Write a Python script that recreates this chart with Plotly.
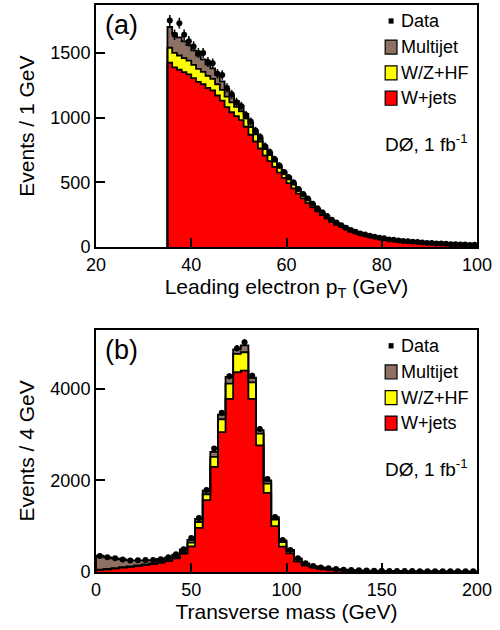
import numpy as np
import plotly.graph_objects as go

# ---------------- Panel (a): leading electron pT, 1 GeV bins ----------------
pt_lo = list(range(35, 100))
pt_width = 1
pt_wjets = [1425, 1388, 1370, 1352, 1335, 1306, 1277, 1258, 1229, 1210,
            1171, 1132, 1082, 1042, 1012, 981, 930, 868, 816, 762,
            708, 665, 620, 575, 535, 495, 454, 413, 377, 340,
            308, 276, 248, 221, 193, 173, 154, 137, 121, 108,
            97, 87, 80, 72, 66, 61, 56, 51, 47, 44,
            41, 38, 35, 33, 31, 29, 27, 25, 23, 21,
            20, 19, 17, 16, 15]
pt_hf = [115, 112, 110, 108, 105, 102, 99, 96, 93, 90,
         87, 83, 80, 76, 72, 68, 64, 60, 56, 53,
         50, 46, 43, 40, 37, 34, 31, 28, 25, 23,
         21, 19, 17, 15, 13, 12, 11, 10, 9, 8,
         7, 7, 6, 6, 5, 5, 4, 4, 4, 3,
         3, 3, 3, 2, 2, 2, 2, 2, 2, 2,
         1, 1, 1, 1, 1]
pt_multijet = [160, 150, 140, 130, 120, 112, 104, 96, 88, 80,
               72, 65, 58, 52, 46, 41, 36, 32, 28, 25,
               22, 19, 17, 15, 13, 11, 10, 9, 8, 7,
               6, 5, 5, 4, 4, 3, 3, 3, 2, 2,
               2, 2, 2, 2, 2, 1, 1, 1, 1, 1,
               1, 1, 1, 1, 1, 1, 1, 1, 1, 1,
               1, 1, 1, 1, 1]
pt_data = [1750, 1640, 1730, 1640, 1590, 1550, 1500, 1500, 1430, 1420,
           1340, 1330, 1230, 1180, 1120, 1090, 1020, 970, 900, 850,
           780, 735, 680, 630, 580, 540, 500, 450, 410, 375,
           335, 300, 270, 240, 212, 190, 170, 150, 133, 120,
           106, 97, 88, 81, 72, 68, 60, 57, 52, 47,
           45, 41, 40, 36, 33, 32, 29, 28, 26, 23,
           22, 21, 20, 17, 18]

# ---------------- Panel (b): transverse mass, 4 GeV bins ----------------
mt_lo = list(range(0, 200, 4))
mt_width = 4
mt_wjets = [45, 60, 75, 95, 110, 130, 150, 170, 200, 240,
            300, 400, 560, 960, 1565, 2290, 3050, 3775, 4355, 4391,
            3775, 2760, 1725, 1000, 551, 406, 225, 140, 95, 70,
            55, 42, 32, 26, 21, 17, 14, 12, 10, 9,
            8, 7, 7, 6, 6, 5, 5, 5, 4, 4]
mt_hf = [5, 5, 8, 10, 10, 12, 14, 15, 18, 20,
         25, 35, 80, 130, 130, 220, 280, 330, 400, 400,
         360, 255, 200, 145, 100, 50, 45, 30, 20, 15,
         12, 10, 8, 6, 5, 4, 4, 3, 3, 3,
         2, 2, 2, 2, 2, 1, 1, 1, 1, 1]
mt_multijet = [305, 255, 215, 170, 135, 110, 90, 75, 65, 55,
               55, 55, 60, 70, 80, 110, 100, 150, 100, 150,
               100, 80, 70, 50, 40, 25, 25, 18, 15, 15,
               13, 12, 11, 10, 10, 10, 10, 10, 10, 10,
               10, 9, 9, 9, 9, 9, 9, 9, 9, 9]
mt_data = [350, 320, 300, 275, 250, 255, 262, 262, 280, 320,
           385, 495, 740, 1180, 1790, 2690, 3470, 4270, 4880, 5010,
           4280, 3120, 2030, 1200, 700, 480, 300, 190, 130, 100,
           80, 65, 50, 42, 36, 31, 28, 25, 22, 22,
           20, 19, 18, 17, 17, 16, 15, 15, 14, 14]

legend_labels = ["Data", "Multijet", "W/Z+HF", "W+jets"]
colors = {"W+jets": "#ff0000", "W/Z+HF": "#ffff00", "Multijet": "#8d7163"}

FONT = "Liberation Sans, Arial, Helvetica, sans-serif"

fig = go.Figure()


def add_stack(lo, width, comps, cols, xa, ya):
    x = [lo[0]] + list(lo) + [lo[-1] + width]
    cum = np.zeros(len(lo))
    for i, (vals, col) in enumerate(zip(comps, cols)):
        cum = cum + np.array(vals, dtype=float)
        y = [0.0] + list(cum) + [cum[-1]]
        fig.add_trace(go.Scatter(
            x=x, y=y, mode="lines",
            line=dict(shape="hv", color="black", width=1.8),
            fill="tozeroy" if i == 0 else "tonexty", fillcolor=col,
            xaxis=xa, yaxis=ya, showlegend=False, hoverinfo="skip"))


def add_data(lo, width, data, xa, ya):
    d = np.array(data, dtype=float)
    fig.add_trace(go.Scatter(
        x=np.array(lo) + width / 2.0, y=d, mode="markers",
        marker=dict(symbol="circle", size=6, color="black"),
        error_y=dict(type="data", array=np.sqrt(d), width=0,
                     thickness=1.5, color="black"),
        xaxis=xa, yaxis=ya, showlegend=False, hoverinfo="skip"))


add_stack(pt_lo, pt_width, [pt_wjets, pt_hf, pt_multijet],
          [colors["W+jets"], colors["W/Z+HF"], colors["Multijet"]], "x", "y")
add_data(pt_lo, pt_width, pt_data, "x", "y")
add_stack(mt_lo, mt_width, [mt_wjets, mt_hf, mt_multijet],
          [colors["W+jets"], colors["W/Z+HF"], colors["Multijet"]], "x2", "y2")
add_data(mt_lo, mt_width, mt_data, "x2", "y2")

axis_common = dict(
    showline=True, linecolor="black", linewidth=2, mirror=True,
    ticks="inside", ticklen=9, tickwidth=1.5, tickcolor="black",
    tickfont=dict(family=FONT, size=18, color="black"),
    showgrid=False, zeroline=False,
)

fig.update_layout(
    width=500, height=630,
    margin=dict(l=96, r=23, t=3, b=58),
    paper_bgcolor="white", plot_bgcolor="white",
    font=dict(family=FONT, color="black"),
    showlegend=False,
    xaxis=dict(domain=[0, 1], range=[20, 100], dtick=20, anchor="y",
               title=dict(text="Leading electron p<sub>T</sub> (GeV)",
                          font=dict(size=21), standoff=1),
               ticklabelstandoff=0,
               **axis_common),
    yaxis=dict(domain=[0.5729, 1], range=[0, 1870], dtick=500, anchor="x",
               title=dict(text="Events / 1 GeV", font=dict(size=21), standoff=10),
               **axis_common),
    xaxis2=dict(domain=[0, 1], range=[0, 200], dtick=50, anchor="y2",
                title=dict(text="Transverse mass (GeV)",
                           font=dict(size=21), standoff=1),
                ticklabelstandoff=0,
                **axis_common),
    yaxis2=dict(domain=[0, 0.4271], range=[0, 5280], dtick=2000, anchor="x2",
                title=dict(text="Events / 4 GeV", font=dict(size=21), standoff=10),
                **axis_common),
)

# Legend-like annotations drawn inside each panel
rows_y = [0.934, 0.826, 0.720, 0.615]
box_x0, box_x1, text_x = 0.759, 0.790, 0.795
half_h = 0.029
for xd, yd, tag in [("x domain", "y domain", "(a)"), ("x2 domain", "y2 domain", "(b)")]:
    fig.add_annotation(xref=xd, yref=yd, x=0.018, y=0.918, text=tag,
                       showarrow=False, xanchor="left", yanchor="middle",
                       font=dict(size=27, family=FONT, color="black"))
    # data square
    fig.add_shape(type="rect", xref=xd, yref=yd,
                  x0=0.768, x1=0.781, y0=rows_y[0] - 0.011, y1=rows_y[0] + 0.011,
                  fillcolor="black", line=dict(width=0))
    for lab, yy in zip(legend_labels[1:], rows_y[1:]):
        fig.add_shape(type="rect", xref=xd, yref=yd,
                      x0=box_x0, x1=box_x1, y0=yy - half_h, y1=yy + half_h,
                      fillcolor=colors[lab], line=dict(color="black", width=1.2))
    for lab, yy in zip(legend_labels, rows_y):
        fig.add_annotation(xref=xd, yref=yd, x=text_x, y=yy, text=lab,
                           showarrow=False, xanchor="left", yanchor="middle",
                           font=dict(size=18, family=FONT, color="black"))
    fig.add_annotation(xref=xd, yref=yd, x=0.752, y=0.43,
                       text="DØ, 1 fb<sup>-1</sup>",
                       showarrow=False, xanchor="left", yanchor="middle",
                       font=dict(size=19, family=FONT, color="black"))

fig.write_html("out.html")
